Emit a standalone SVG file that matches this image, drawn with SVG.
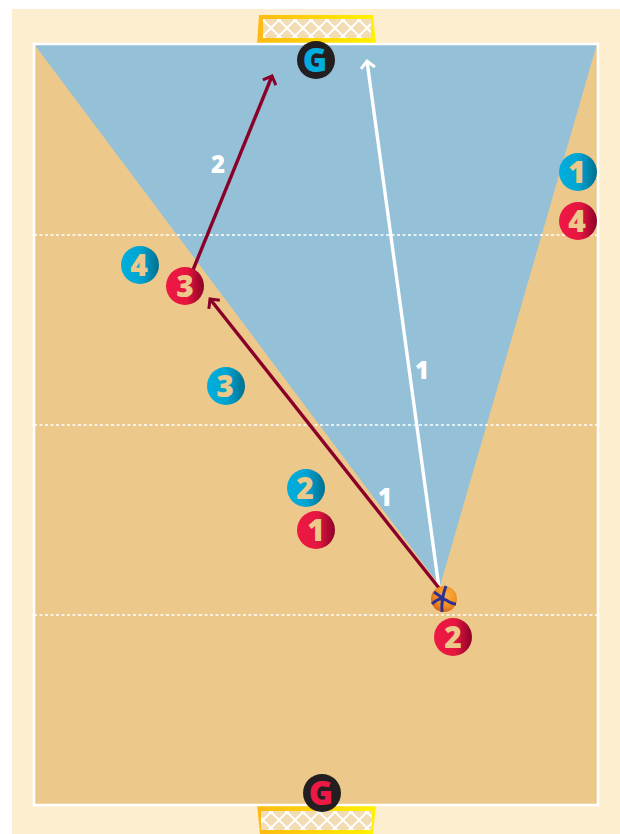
<svg xmlns="http://www.w3.org/2000/svg" width="620" height="834" viewBox="0 0 620 834">
<defs>
<linearGradient id="bl" x1="0" x2="1" y1="0" y2="0"><stop offset="0" stop-color="#00aede"/><stop offset="0.5" stop-color="#00a5d3"/><stop offset="1" stop-color="#006f8e"/></linearGradient>
<linearGradient id="rd" x1="0" x2="1" y1="0" y2="0"><stop offset="0" stop-color="#ee1844"/><stop offset="0.55" stop-color="#e5173f"/><stop offset="1" stop-color="#8c0028"/></linearGradient>
<linearGradient id="gold" x1="0" x2="1" y1="0" y2="0"><stop offset="0" stop-color="#fdb913"/><stop offset="1" stop-color="#fff200"/></linearGradient>
<radialGradient id="ball" cx="0.6" cy="0.35" r="0.75"><stop offset="0" stop-color="#fbb040"/><stop offset="0.6" stop-color="#ee8a22"/><stop offset="1" stop-color="#c9561a"/></radialGradient>
<pattern id="net" width="16" height="16" patternUnits="userSpaceOnUse" x="263" y="20"><rect width="16" height="16" fill="#f2dcb3"/><path d="M-1 -1L17 17M17 -1L-1 17" stroke="#fff" stroke-width="2"/></pattern>
<marker id="aw" markerWidth="16" markerHeight="18" refX="9" refY="9" orient="auto" markerUnits="userSpaceOnUse"><path d="M2 2L9 9L2 16" fill="none" stroke="#fff" stroke-width="3"/></marker>
<marker id="am" markerWidth="16" markerHeight="18" refX="9" refY="9" orient="auto" markerUnits="userSpaceOnUse"><path d="M2 2L9 9L2 16" fill="none" stroke="#8a0029" stroke-width="3"/></marker>
</defs>
<style>
.num{font-family:"Open Sans","DejaVu Sans",sans-serif;font-weight:800;font-size:30px;fill:#ecc98b;text-anchor:middle}
.lab{font-family:"Open Sans","DejaVu Sans",sans-serif;font-weight:800;font-size:24px;fill:#fff;text-anchor:middle}
.g{font-family:"Open Sans","DejaVu Sans",sans-serif;font-weight:800;font-size:33px;text-anchor:middle}
.dash{stroke:#fff;stroke-width:1.500;stroke-dasharray:3 2.500;fill:none}
.wl{stroke:#fff;stroke-width:3.400;fill:none}
.ml{stroke:#8a0029;stroke-width:3.400;fill:none}
</style>
<rect width="620" height="834" fill="#fff"/>
<rect x="12" y="9" width="608" height="825" fill="#feeed0"/>
<g id="goal-top"><path d="M259 15H373L376 44H257Z" fill="url(#gold)"/><rect x="263" y="19" width="108" height="19" fill="url(#net)"/></g>
<g id="goal-bottom"><path d="M257 804H376L373 834H260Z" fill="url(#gold)"/><rect x="261" y="811" width="111" height="19" fill="url(#net)"/></g>
<g id="court">
<rect x="34" y="44" width="564" height="761" fill="#ecc98b"/>
<path d="M34 44H597L440 586Z" fill="#94c0d8"/>
<rect x="34" y="44" width="564" height="761" fill="none" stroke="#fff" stroke-width="2.500"/>
<path class="dash" d="M34 235H597M34 425H597M34 615H597"/>
</g>
<g id="connectors">
<path class="wl" d="M439 588L367 61" marker-end="url(#aw)"/>
<path class="ml" d="M439 588L210 299" marker-end="url(#am)"/>
<path class="ml" d="M193 270L272 76" marker-end="url(#am)"/>
<text class="lab" x="422" y="379">1</text>
<text class="lab" x="385" y="506">1</text>
<text class="lab" x="218" y="173">2</text>
</g>
<g id="gk-top"><circle cx="316" cy="60" r="19" fill="#231f20"/><text class="g" x="315" y="72" fill="#00aede">G</text></g>
<g id="gk-bottom"><circle cx="322" cy="793" r="19" fill="#231f20"/><text class="g" x="321" y="805" fill="#ee1844">G</text></g>
<g id="b1"><circle cx="578" cy="172" r="19" fill="url(#bl)"/><text class="num" x="577" y="183">1</text></g>
<g id="b2"><circle cx="306" cy="488" r="19" fill="url(#bl)"/><text class="num" x="305" y="499">2</text></g>
<g id="b3"><circle cx="226" cy="386" r="19" fill="url(#bl)"/><text class="num" x="225" y="397">3</text></g>
<g id="b4"><circle cx="140" cy="265" r="19" fill="url(#bl)"/><text class="num" x="139" y="276">4</text></g>
<g id="r1"><circle cx="316" cy="530" r="19" fill="url(#rd)"/><text class="num" x="316" y="541">1</text></g>
<g id="r2"><circle cx="453" cy="637" r="19" fill="url(#rd)"/><text class="num" x="453" y="648">2</text></g>
<g id="r3"><circle cx="185" cy="286" r="19" fill="url(#rd)"/><text class="num" x="185" y="297">3</text></g>
<g id="r4"><circle cx="578" cy="221" r="19" fill="url(#rd)"/><text class="num" x="577" y="232">4</text></g>
<g id="ball-node"><circle cx="444" cy="599" r="13" fill="url(#ball)"/><path d="M446 586Q441 599 442 612M432 604Q440 596 446 600T456 604M434 592Q440 596 445 600" fill="none" stroke="#2e3192" stroke-width="3"/></g>
</svg>
